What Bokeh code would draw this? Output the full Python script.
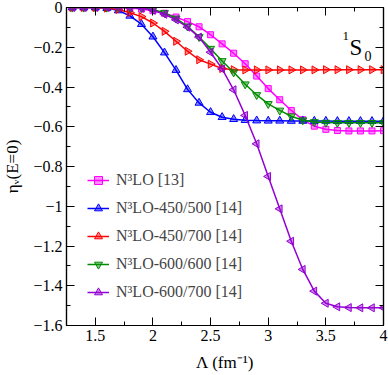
import math
from bokeh.plotting import figure
from bokeh.models import Range1d, LinearAxis, FixedTicker, CustomJSTickFormatter, Label
from bokeh.embed import file_html
from bokeh.resources import INLINE

# ---- data ----
lam = [1.3, 1.4, 1.5, 1.6, 1.7, 1.8, 1.9, 2.0, 2.1, 2.2, 2.3, 2.4, 2.5, 2.6,
       2.7, 2.8, 2.9, 3.0, 3.1, 3.2, 3.3, 3.4, 3.5, 3.6, 3.7, 3.8, 3.9, 4.0]

n3lo_13 = [0.0, 0.0, 0.0, 0.0, -0.001, -0.003, -0.008, -0.016, -0.029, -0.048,
           -0.071, -0.097, -0.137, -0.183, -0.230, -0.283, -0.345, -0.408,
           -0.464, -0.518, -0.565, -0.597, -0.613, -0.619, -0.621, -0.621,
           -0.621, -0.620]
n3lo_450_500 = [0.0, 0.0, 0.0, -0.003, -0.015, -0.042, -0.084, -0.147, -0.227,
                -0.315, -0.412, -0.480, -0.527, -0.552, -0.562, -0.567, -0.569,
                -0.570, -0.570, -0.571, -0.571, -0.571, -0.571, -0.572, -0.572,
                -0.572, -0.572, -0.572]
n3lo_450_700 = [0.0, 0.0, 0.0, -0.003, -0.010, -0.026, -0.046, -0.078, -0.120,
                -0.170, -0.220, -0.263, -0.285, -0.307, -0.313, -0.314, -0.314,
                -0.314, -0.314, -0.314, -0.314, -0.314, -0.313, -0.313, -0.313,
                -0.313, -0.313, -0.313]
n3lo_600_600 = [0.0, 0.0, 0.0, 0.0, 0.0, 0.0, -0.002, -0.010, -0.027, -0.055,
                -0.095, -0.148, -0.207, -0.269, -0.326, -0.386, -0.440, -0.485,
                -0.518, -0.547, -0.567, -0.576, -0.579, -0.580, -0.580, -0.580,
                -0.580, -0.580]
n3lo_600_700 = [0.0, 0.0, 0.0, 0.0, 0.0, 0.0, -0.003, -0.014, -0.034, -0.062,
                -0.099, -0.149, -0.225, -0.309, -0.414, -0.543, -0.686, -0.850,
                -1.013, -1.176, -1.318, -1.427, -1.488, -1.506, -1.510, -1.511,
                -1.511, -1.511]

series_labels = ["N³LO [13]", "N³LO-450/500 [14]", "N³LO-450/700 [14]",
                 "N³LO-600/600 [14]", "N³LO-600/700 [14]"]
x_major = [1.5, 2.0, 2.5, 3.0, 3.5, 4.0]
x_minor = [1.25, 1.75, 2.25, 2.75, 3.25, 3.75]
y_major = [0.0, -0.2, -0.4, -0.6, -0.8, -1.0, -1.2, -1.4, -1.6]
y_minor = [-0.1, -0.3, -0.5, -0.7, -0.9, -1.1, -1.3, -1.5]
x_title = "Λ (fm⁻¹)"
y_title = "ηᵥ(E=0)"

FONT = "Liberation Serif"

p = figure(width=388, height=375, x_range=Range1d(1.25, 4.0), y_range=Range1d(-1.6, 0.0),
           output_backend="svg", toolbar_location=None,
           min_border_left=64, min_border_right=5, min_border_top=7, min_border_bottom=50)
p.xgrid.visible = False
p.ygrid.visible = False
p.outline_line_color = "black"
p.outline_line_width = 1.2

styles = [
    (n3lo_13, "#ff00ff", "square", 0.0, 6),
    (n3lo_450_500, "#0000ff", "triangle", 0.0, 8),
    (n3lo_450_700, "#ff0000", "triangle", -math.pi / 2, 8),
    (n3lo_600_600, "#008b00", "inverted_triangle", 0.0, 8),
    (n3lo_600_700, "#9400d3", "triangle", math.pi / 2, 8),
]
for (ys, col, mk, ang, sz), lab in zip(styles, series_labels):
    p.line(lam, ys, line_color=col, line_width=1.5, legend_label=lab)
    p.scatter(lam, ys, marker=mk, angle=ang, size=sz, line_color=col, line_width=1,
              fill_color=col, fill_alpha=0.45, legend_label=lab)

yfmt = CustomJSTickFormatter(code="""
const a = Math.abs(tick);
const s = String(+a.toFixed(2));
return (tick < -1e-9 ? '\\u2212' : '') + s;
""")
xfmt = CustomJSTickFormatter(code="return String(+tick.toFixed(2));")
blank = CustomJSTickFormatter(code="return '';")

def style_axis(ax, major, minor, fmt, show):
    ax.ticker = FixedTicker(ticks=major, minor_ticks=minor)
    ax.formatter = fmt
    ax.major_tick_in = 8
    ax.major_tick_out = 0
    ax.minor_tick_in = 4
    ax.minor_tick_out = 0
    ax.axis_line_width = 1.2
    ax.major_tick_line_width = 1
    ax.minor_tick_line_width = 1
    if show:
        ax.major_label_text_font = FONT
        ax.major_label_text_font_size = "16px"
        ax.major_label_text_color = "black"
        ax.major_label_standoff = 4
        ax.axis_label_text_font = FONT
        ax.axis_label_text_font_size = "17px"
        ax.axis_label_text_font_style = "normal"
        ax.axis_label_text_color = "black"
    else:
        ax.major_label_text_font_size = "0px"
        ax.major_label_standoff = 0

style_axis(p.xaxis[0], x_major, x_minor, xfmt, True)
style_axis(p.yaxis[0], y_major, y_minor, yfmt, True)
p.xaxis[0].axis_label = x_title
p.xaxis[0].axis_label_standoff = 9
p.yaxis[0].axis_label = y_title
p.yaxis[0].axis_label_standoff = 8

top = LinearAxis()
right = LinearAxis()
style_axis(top, x_major, x_minor, blank, False)
style_axis(right, y_major, y_minor, blank, False)
p.add_layout(top, "above")
p.add_layout(right, "right")

# legend
lg = p.legend[0]
lg.location = (21, 23)
lg.border_line_color = None
lg.background_fill_alpha = 0
lg.padding = 0
lg.margin = 0
lg.spacing = 8
lg.label_height = 20
lg.glyph_height = 20
lg.glyph_width = 22
lg.label_standoff = 7
lg.label_text_font = FONT
lg.label_text_font_size = "16px"

def lab(text, x, y, size):
    p.add_layout(Label(x=x, y=y, x_units="screen", y_units="screen", text=text,
                       text_font=FONT, text_font_size=size, text_color="black",
                       text_align="left", text_baseline="alphabetic"))

# 1S0
lab("1", 276, 290, "13px")
lab("S", 283, 278, "23px")
lab("0", 298, 270, "14px")

open("out.html", "w").write(file_html(p, INLINE))
